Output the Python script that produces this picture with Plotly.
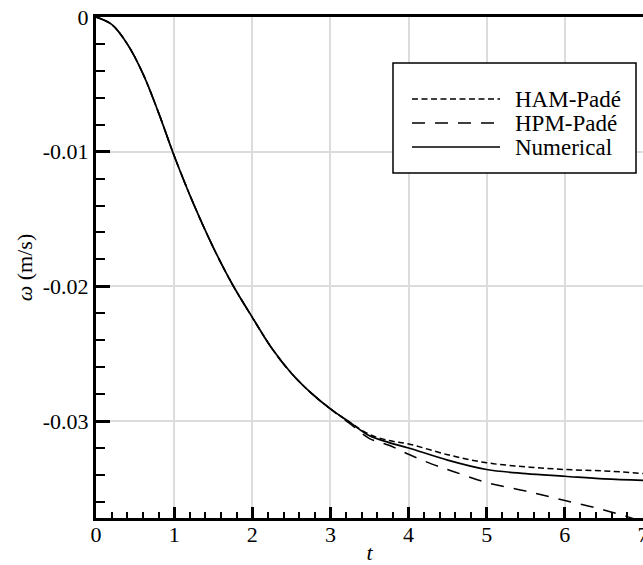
import plotly.graph_objects as go

# ---- data ----
t_num = [0, 0.2, 0.4, 0.6, 0.8, 1.0, 1.25, 1.5, 1.75, 2.0, 2.25, 2.5, 2.75, 3.0,
         3.25, 3.5, 3.75, 4.0, 4.5, 5.0, 5.5, 6.0, 6.5, 7.0]
w_num = [0, -0.00055, -0.0020, -0.0042, -0.0071, -0.0103, -0.0139, -0.0171, -0.0199,
         -0.0223, -0.0246, -0.02645, -0.0279, -0.0291, -0.0301, -0.0311, -0.0316,
         -0.0320, -0.0329, -0.0336, -0.0339, -0.0341, -0.0343, -0.0344]

t_ham = [0, 0.2, 0.4, 0.6, 0.8, 1.0, 1.25, 1.5, 1.75, 2.0, 2.25, 2.5, 2.75, 3.0,
         3.25, 3.5, 3.75, 4.0, 4.5, 5.0, 5.5, 6.0, 6.5, 7.0]
w_ham = [0, -0.00055, -0.0020, -0.0042, -0.0071, -0.0103, -0.0139, -0.0171, -0.0199,
         -0.0223, -0.0246, -0.02645, -0.0279, -0.0291, -0.0301, -0.0310, -0.03145,
         -0.0317, -0.0325, -0.0331, -0.0334, -0.0336, -0.0337, -0.0339]

t_hpm = [0, 0.2, 0.4, 0.6, 0.8, 1.0, 1.25, 1.5, 1.75, 2.0, 2.25, 2.5, 2.75, 3.0,
         3.25, 3.5, 3.75, 4.0, 4.3, 4.6, 5.0, 5.5, 6.0, 6.5, 6.8, 7.0]
w_hpm = [0, -0.00055, -0.0020, -0.0042, -0.0071, -0.0103, -0.0139, -0.0171, -0.0199,
         -0.0223, -0.0246, -0.02645, -0.0279, -0.0291, -0.0302, -0.0313, -0.0318,
         -0.03247, -0.0332, -0.0338, -0.03457, -0.0352, -0.0359, -0.0366, -0.0371,
         -0.0375]

x_ticks = [0, 1, 2, 3, 4, 5, 6, 7]
y_tickvals = [0, -0.01, -0.02, -0.03]
y_ticktext = ["0", "-0.01", "-0.02", "-0.03"]
series_names = ["HAM-Padé", "HPM-Padé", "Numerical"]
series_dash = ["6px,3.5px", "13px,10px", "solid"]
series_width = [1.5, 1.5, 1.7]

FONT = "Liberation Serif, Times New Roman, Times, serif"

fig = go.Figure()
for tx, wy, name, dash, lw in zip([t_ham, t_hpm, t_num], [w_ham, w_hpm, w_num],
                                  series_names, series_dash, series_width):
    fig.add_trace(go.Scatter(x=tx, y=wy, mode="lines", name=name, showlegend=False,
                             line=dict(color="black", width=lw, dash=dash, shape="spline")))

W, H = 643, 565
ml, mr, mt, mb = 96, 0, 17, 47
pw, ph = W - ml - mr, H - mt - mb

def px_x(p):
    return (p - ml) / pw

def px_y(p):
    return (H - mb - p) / ph

# legend box
fig.add_shape(type="rect", xref="paper", yref="paper",
              x0=px_x(393), x1=px_x(636), y0=px_y(173), y1=px_y(63),
              line=dict(color="black", width=1.5), fillcolor="white", layer="above")
# legend entries
for i, (name, dash, lw) in enumerate(zip(series_names, series_dash, series_width)):
    yy = px_y(99 + i * 24)
    fig.add_shape(type="line", xref="paper", yref="paper",
                  x0=px_x(412), x1=px_x(500), y0=yy, y1=yy, layer="above",
                  line=dict(color="black", width=lw, dash=dash))
    fig.add_annotation(xref="paper", yref="paper", x=px_x(513), y=yy,
                       xanchor="left", yanchor="middle", text=name, showarrow=False,
                       font=dict(family=FONT, size=23, color="black"))

fig.update_layout(
    width=W, height=H,
    margin=dict(l=ml, r=mr, t=mt, b=mb, autoexpand=False),
    paper_bgcolor="white", plot_bgcolor="white",
    font=dict(family=FONT, size=22, color="black"),
    showlegend=False,
    xaxis=dict(range=[0, 7], tickvals=x_ticks, ticks="inside", ticklen=11, tickwidth=2.5,
               tickcolor="black", showline=True, linewidth=3, linecolor="black",
               mirror=True, showgrid=True, gridcolor="#dcdcdc", gridwidth=1.5,
               zeroline=False, tickfont=dict(family=FONT, size=22), automargin=False,
               ticklabelstandoff=-5, ticklabeloverflow="allow",
               minor=dict(dtick=0.2, tick0=0, ticks="inside", ticklen=6, tickwidth=2,
                          tickcolor="black", showgrid=False),
               title=dict(text="<i>t</i>", font=dict(family=FONT, size=22), standoff=4)),
    yaxis=dict(range=[-0.0372, 0], tickmode="array", tickvals=y_tickvals, ticktext=y_ticktext,
               ticks="inside", ticklen=14, tickwidth=3, tickcolor="black",
               showline=True, linewidth=3, linecolor="black", mirror=False,
               showgrid=True, gridcolor="#dcdcdc", gridwidth=1.5, zeroline=False,
               tickfont=dict(family=FONT, size=22), automargin=False,
               minor=dict(dtick=0.002, tick0=0, ticks="inside", ticklen=9, tickwidth=2,
                          tickcolor="black", showgrid=False),
               title=dict(text="<i>ω</i> (m/s)", font=dict(family=FONT, size=22), standoff=5)),
)

fig.write_html("out.html", config={"displayModeBar": False},
               post_script="document.body.style.margin='0';document.body.style.overflow='hidden';")
